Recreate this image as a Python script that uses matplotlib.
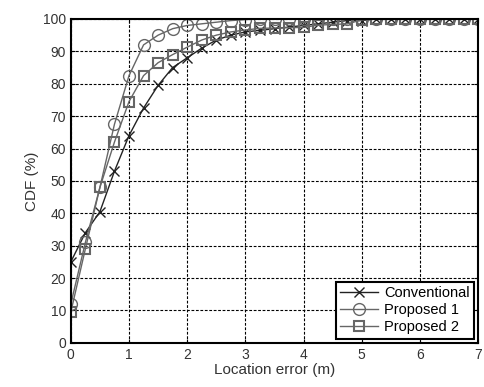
import numpy as np
import matplotlib
matplotlib.use("Agg")
from matplotlib import pyplot as plt

plt.rcParams['font.family'] = ['Liberation Sans', 'DejaVu Sans']

# location error (m), one marker every 0.25 m
err = np.arange(0, 7.01, 0.25)

conventional = [25, 34, 40.5, 53, 64, 72.5, 79.5, 85, 88, 91, 93.5, 95, 96,
                96.5, 97, 97.5, 98, 98.5, 99, 99.5, 99.5, 100, 100, 100, 100,
                100, 100, 100, 100]
proposed1 = [12, 31, 48, 67.5, 82.5, 92, 95, 97, 98, 98.5, 99, 99.5, 99.8,
             100, 100, 100, 100, 100, 100, 100, 100, 100, 100, 100, 100,
             100, 100, 100, 100]
proposed2 = [9.5, 29, 48, 62, 74.5, 82.5, 86.5, 89, 91.3, 93.5, 95, 96,
             96.6, 97.1, 97.2, 97.3, 97.4, 98.1, 98.3, 98.5, 99.7, 100, 100,
             100, 100, 100, 100, 100, 100]

fig = plt.figure(figsize=(4.85, 3.87), dpi=100)
ax = fig.add_axes([0.146, 0.114, 0.840, 0.837])

ax.plot(err, conventional, color='#222222', lw=1.0, marker='x', ms=6.5,
        mew=1.0, label='Conventional')
ax.plot(err, proposed1, color='#666666', lw=1.0, marker='o', ms=8.5,
        mfc='none', mew=1.0, label='Proposed 1')
ax.plot(err, proposed2, color='#666666', lw=1.0, marker='s', ms=7.5,
        mfc='none', mew=1.5, label='Proposed 2')

ax.set_xlim(0, 7)
ax.set_ylim(0, 100)
ax.set_xticks(range(0, 8))
ax.set_yticks(range(0, 101, 10))
ax.grid(True, color='black', linestyle=(0, (2.5, 1.5)), lw=0.8)
ax.tick_params(direction='in', top=True, right=True, length=3,
               labelsize=10, labelcolor='#333333')
for s in ax.spines.values():
    s.set_linewidth(1.5)

ax.set_xlabel('Location error (m)', fontsize=11, color='#333333', labelpad=1)
ax.set_ylabel('CDF (%)', fontsize=11, color='#333333', labelpad=3)

leg = ax.legend(loc='lower right', fontsize=10.5, fancybox=False,
                edgecolor='black', framealpha=1, borderaxespad=0.3,
                handlelength=2.6, labelspacing=0.2, borderpad=0.3,
                handletextpad=0.4)
leg.get_frame().set_linewidth(1.5)

fig.savefig('out.png', dpi=100)
